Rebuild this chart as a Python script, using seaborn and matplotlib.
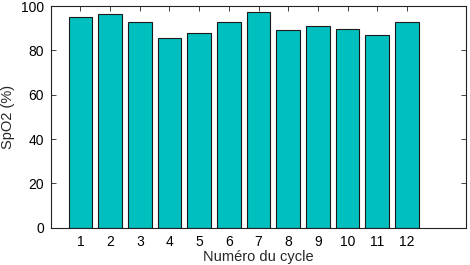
import matplotlib
matplotlib.use('Agg')
import matplotlib.pyplot as plt
import seaborn as sns
import pandas as pd

cycles = [1, 2, 3, 4, 5, 6, 7, 8, 9, 10, 11, 12]
spo2 = [94.9, 96.3, 92.8, 85.7, 87.7, 92.8, 97.4, 89.3, 90.8, 89.8, 86.8, 92.8]
y_ticks = [0, 20, 40, 60, 80, 100]

sns.set_style('ticks')
plt.rcParams['font.family'] = ['Liberation Sans', 'DejaVu Sans']

df = pd.DataFrame({'cycle': cycles, 'spo2': spo2})

fig = plt.figure(figsize=(4.7, 2.65), dpi=100)
ax = fig.add_axes([0.108, 0.141, 0.884, 0.836])

sns.barplot(data=df, x='cycle', y='spo2', native_scale=True, width=0.8,
            color='#00BFBF', saturation=1, edgecolor='#1a1a1a', linewidth=0.8, ax=ax)

ax.set_xlim(0, 14)
ax.set_ylim(0, 100)
ax.set_xticks(cycles)
ax.set_xticklabels([str(c) for c in cycles])
ax.set_yticks(y_ticks)
ax.tick_params(direction='in', length=3.5, width=0.6, labelsize=10, top=True, right=True,
               colors='#222222', labelcolor='black', pad=5)
for s in ax.spines.values():
    s.set_visible(True)
    s.set_linewidth(0.8)
    s.set_color('#222222')
ax.set_xlabel('Numéro du cycle', fontsize=10.5, labelpad=1)
ax.set_ylabel('SpO2 (%)', fontsize=10.5, labelpad=4)

fig.savefig('out.png', dpi=100)
